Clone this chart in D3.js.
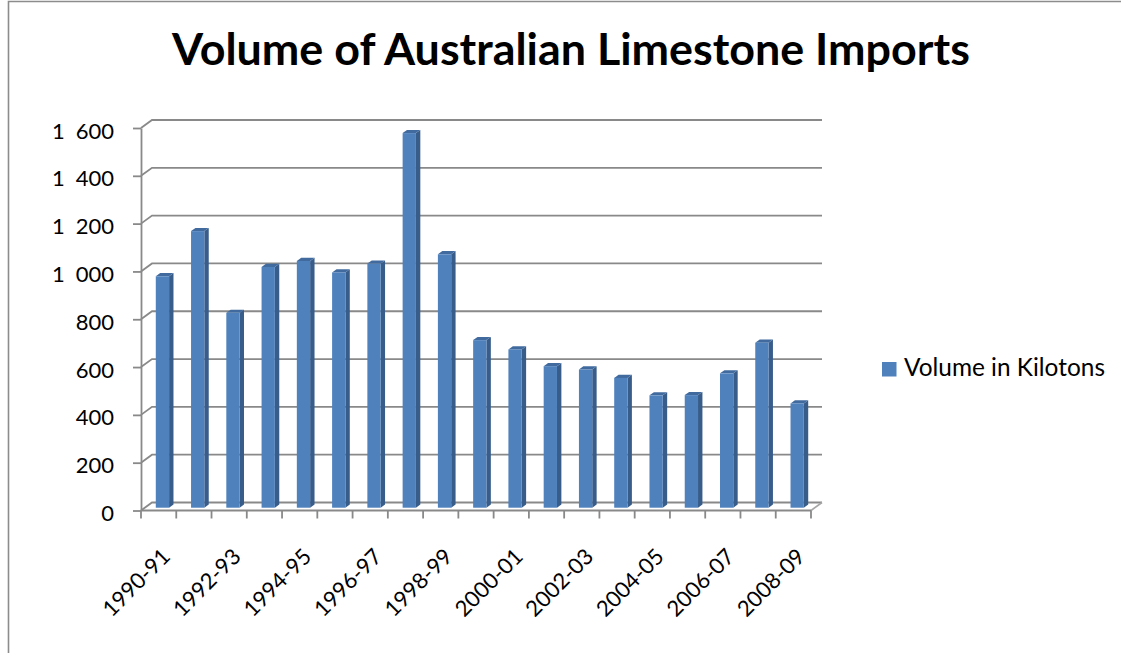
<!DOCTYPE html>
<html>
<head>
<meta charset="utf-8">
<script src="https://cdn.jsdelivr.net/npm/d3@7"></script>
<style>
  body { margin: 0; background: #fff; }
  #graph { width: 1121px; height: 653px; }
  text { font-family: Lato, "Open Sans", sans-serif; fill: #000; }
</style>
</head>
<body>
<div id="graph"></div>
<script>
// Chart data
const years = ["1990-91","1991-92","1992-93","1993-94","1994-95","1995-96","1996-97","1997-98","1998-99","1999-00",
               "2000-01","2001-02","2002-03","2003-04","2004-05","2005-06","2006-07","2007-08","2008-09"]
const volumes = [968, 1157, 815, 1007, 1032, 984, 1021, 1567, 1060, 701, 662, 592, 578, 543, 470, 471, 562, 690, 436]
const yTicks = [0, 200, 400, 600, 800, 1000, 1200, 1400, 1600]
const xLabels = ["1990-91","1992-93","1994-95","1996-97","1998-99","2000-01","2002-03","2004-05","2006-07","2008-09"]
const title = "Volume of Australian Limestone Imports"
const seriesName = "Volume in Kilotons"

const width = 1121
const height = 653

// 3d depth of the back wall and of the bars
const wallDx = 11, wallDy = 8
const barDx = 4.4, barDy = 3.2
const planeDx = 3.8, planeDy = 2.8

const gridColor = "#898989"

const svg = d3.select("#graph")
              .append("svg")
              .attr("width", width)
              .attr("height", height)

// outer chart border (only left and top edges are in view)
svg.append("path")
   .attr("d", "M8.5,653 L8.5,1.5 L1121,1.5")
   .attr("fill", "none")
   .attr("stroke", "#8c8c8c")
   .attr("stroke-width", 1.6)

// Scales
const xScale = d3.scaleBand()
                 .domain(years)
                 .range([141, 811])
                 .padding(0)
const yScale = d3.scaleLinear()
                 .domain([0, 1600])
                 .range([510.5, 128])
const bw = xScale.bandwidth()

// Back wall gridlines + left wall diagonals
const grid = svg.append("g").attr("class", "axis-grid")
grid.selectAll("path")
    .data(yTicks)
    .enter()
    .append("path")
    .attr("d", d => `M141,${yScale(d)} L${141 + wallDx},${yScale(d) - wallDy} L${811 + wallDx},${yScale(d) - wallDy}`)
    .attr("fill", "none")
    .attr("stroke", gridColor)
    .attr("stroke-width", 1.8)

// Floor right edge
svg.append("path")
   .attr("d", `M811,${yScale(0)} L${811 + wallDx},${yScale(0) - wallDy}`)
   .attr("stroke", "#a6a6a6")
   .attr("stroke-width", 1.6)

// y axis (ticks to the left)
const yAxis = d3.axisLeft(yScale)
                .tickValues(yTicks)
                .tickSize(8)
                .tickSizeOuter(0)
                .tickFormat("")
svg.append("g")
   .attr("id", "y-axis")
   .attr("transform", "translate(141,0)")
   .call(yAxis)
   .call(g => g.selectAll("line, path").attr("stroke", gridColor).attr("stroke-width", 1.8))

// y tick labels, thousands separated with a space
const fmt = d => d >= 1000 ? Math.floor(d / 1000) + "\u2002" + d3.format("03d")(d % 1000) : String(d)
svg.append("g")
   .selectAll("text")
   .data(yTicks)
   .enter()
   .append("text")
   .attr("x", 114)
   .attr("y", d => yScale(d) + 10.6)
   .attr("text-anchor", "end")
   .style("font-size", "22px")
   .text(fmt)

// x axis (ticks at category edges)
const xAxis = svg.append("g").attr("id", "x-axis")
xAxis.append("line")
     .attr("x1", 141).attr("x2", 811)
     .attr("y1", yScale(0)).attr("y2", yScale(0))
     .attr("stroke", gridColor)
     .attr("stroke-width", 1.8)
xAxis.selectAll(".tick")
     .data(years.concat(["end"]))
     .enter()
     .append("line")
     .attr("class", "tick")
     .attr("x1", (d, i) => i < years.length ? xScale(d) : xScale(years[years.length - 1]) + bw)
     .attr("x2", (d, i) => i < years.length ? xScale(d) : xScale(years[years.length - 1]) + bw)
     .attr("y1", yScale(0))
     .attr("y2", yScale(0) + 8)
     .attr("stroke", gridColor)
     .attr("stroke-width", 1.8)

// Rotated category labels
xAxis.selectAll(".xlabel")
     .data(xLabels)
     .enter()
     .append("text")
     .attr("class", "xlabel")
     .attr("text-anchor", "end")
     .style("font-size", "22px")
     .attr("transform", d => `translate(${xScale(d) + bw / 2 + 13},558) rotate(-45)`)
     .text(d => d)

// Bars as 3d columns: front face, side face and top cap
const barW = bw * 0.377
const bars = svg.append("g").attr("class", "bars")
    .selectAll("g")
    .data(volumes)
    .enter()
    .append("g")

const barX = (d, i) => xScale(years[i]) + bw / 2 - barW / 2 + planeDx
const barTop = d => yScale(d) - planeDy
const barBase = yScale(0) - planeDy

bars.append("path")
    .attr("d", (d, i) => {
        const x1 = barX(d, i) + barW
        return `M${x1},${barTop(d)} L${x1 + barDx},${barTop(d) - barDy} L${x1 + barDx},${barBase - barDy} L${x1},${barBase} Z`
    })
    .attr("fill", "#385d8a")
bars.append("path")
    .attr("d", (d, i) => {
        const xa = barX(d, i), x1 = xa + barW
        return `M${xa},${barTop(d)} L${xa + barDx},${barTop(d) - barDy} L${x1 + barDx},${barTop(d) - barDy} L${x1},${barTop(d)} Z`
    })
    .attr("fill", "#416b9f")
bars.append("rect")
    .attr("x", barX)
    .attr("y", barTop)
    .attr("width", barW)
    .attr("height", d => barBase - barTop(d))
    .attr("fill", "#4f81bd")

// Title, sized to span the same width as the original
const titleText = svg.append("text")
   .attr("x", 571)
   .attr("y", 65)
   .attr("text-anchor", "middle")
   .style("font-weight", "bold")
   .style("font-size", "40px")
   .text(title)
const tw = titleText.node().getComputedTextLength()
titleText.style("font-size", (40 * 798 / tw).toFixed(2) + "px")

// Legend
svg.append("rect")
   .attr("x", 882)
   .attr("y", 362)
   .attr("width", 14.5)
   .attr("height", 14.5)
   .attr("fill", "#4f81bd")
const legText = svg.append("text")
   .attr("x", 904)
   .attr("y", 376)
   .style("font-size", "22px")
   .text(seriesName)
const lw = legText.node().getComputedTextLength()
legText.style("font-size", (22 * 201 / lw).toFixed(2) + "px")
</script>
</body>
</html>
